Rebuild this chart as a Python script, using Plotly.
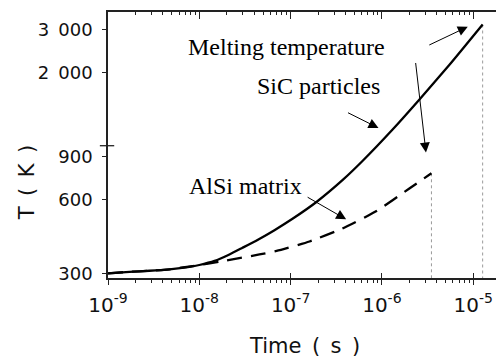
import plotly.graph_objects as go
import numpy as np

# ---- data ----
sic_time = [1.0e-9, 1.72e-9, 2.85e-9, 4.72e-9, 7.81e-9, 1.0e-8, 1.47e-8, 2.14e-8, 2.97e-8,
            4.34e-8, 6.66e-8, 1.05e-7, 1.92e-7, 3.70e-7, 6.13e-7, 1.31e-6, 2.58e-6, 5.50e-6, 1.27e-5]
sic_temp = [300, 304.2, 307.2, 311.6, 318.9, 324.4, 337.0, 358.3, 381.6,
            410.9, 450.6, 501.7, 587.9, 722.3, 865.6, 1165, 1547, 2146, 3139]

alsi_time = [1.0e-9, 1.72e-9, 2.85e-9, 4.72e-9, 8.42e-9, 1.99e-8, 4.56e-8, 7.02e-8,
             1.61e-7, 3.70e-7, 8.73e-7, 2.0e-6, 3.49e-6]
alsi_temp = [300, 304.2, 307.2, 311.6, 321, 338.5, 358.3, 370.3,
             405.0, 457.8, 540.0, 667.7, 770.7]

x_tick_exponents = [-9, -8, -7, -6, -5]
x_tick_vals = [10.0 ** e for e in x_tick_exponents]
x_tick_text = ["10<sup>-%d</sup>" % (-e) for e in x_tick_exponents]

y_tick_vals = [300, 600, 900, 2000, 3000]
y_tick_text = ["300", "600", "900", "2\u2002000", "3\u2002000"]
BREAK_T = 1000

X_RANGE = [-9, -4.750]
Y_RANGE = [2.4578, 3.548]
T_MIN = 10 ** Y_RANGE[0]

fig = go.Figure()

# dotted melting markers
fig.add_trace(go.Scatter(x=[sic_time[-1], sic_time[-1]], y=[sic_temp[-1], T_MIN],
                         mode="lines", line=dict(color="#9a9a9a", width=1, dash="dot"),
                         hoverinfo="skip", showlegend=False))
fig.add_trace(go.Scatter(x=[alsi_time[-1], alsi_time[-1]], y=[alsi_temp[-1], T_MIN],
                         mode="lines", line=dict(color="#9a9a9a", width=1, dash="dot"),
                         hoverinfo="skip", showlegend=False))

fig.add_trace(go.Scatter(x=alsi_time, y=alsi_temp, mode="lines", name="AlSi matrix",
                         line=dict(color="black", width=2.3, dash="15px,9px", shape="spline", smoothing=0.5),
                         showlegend=False))
fig.add_trace(go.Scatter(x=sic_time, y=sic_temp, mode="lines", name="SiC particles",
                         line=dict(color="black", width=2.3, shape="spline", smoothing=0.5),
                         showlegend=False))

# invisible helpers carrying the extra tick axes
fig.add_trace(go.Scatter(x=[sic_time[0]], y=[sic_temp[0]], xaxis="x2", mode="markers",
                         marker=dict(opacity=0), hoverinfo="skip", showlegend=False))
fig.add_trace(go.Scatter(x=[sic_time[0]], y=[sic_temp[0]], xaxis="x3", mode="markers",
                         marker=dict(opacity=0), hoverinfo="skip", showlegend=False))

axis_color = "#222222"
tick_font = dict(family="DejaVu Sans", size=20, color="#111111")

fig.update_layout(
    width=496, height=359,
    margin=dict(l=108, r=0, t=12, b=81, pad=0),
    paper_bgcolor="white", plot_bgcolor="white",
    xaxis=dict(type="log", range=X_RANGE, tickmode="array", tickvals=x_tick_vals,
               ticktext=x_tick_text, ticks="outside", ticklen=5, tickwidth=1.3,
               tickcolor=axis_color, showline=True, linecolor=axis_color, linewidth=1.5,
               showgrid=False, zeroline=False, tickfont=tick_font, ticklabelstandoff=3,
               minor=dict(dtick="D1", ticks="outside", ticklen=3, tickwidth=1.1,
                          tickcolor=axis_color, showgrid=False)),
    xaxis2=dict(type="log", range=X_RANGE, overlaying="x", side="top", anchor="y",
                tickmode="array", tickvals=x_tick_vals, showticklabels=False,
                ticks="inside", ticklen=7, tickwidth=1.3, tickcolor=axis_color,
                showline=True, linecolor=axis_color, linewidth=1.5, showgrid=False,
                zeroline=False,
                minor=dict(dtick="D1", ticks="inside", ticklen=3, tickwidth=1.1,
                           tickcolor=axis_color, showgrid=False)),
    xaxis3=dict(type="log", range=X_RANGE, overlaying="x", side="bottom", anchor="y",
                tickmode="array", tickvals=x_tick_vals, showticklabels=False,
                ticks="inside", ticklen=5, tickwidth=1.3, tickcolor=axis_color,
                showline=False, showgrid=False, zeroline=False),
    yaxis=dict(type="log", range=Y_RANGE, tickmode="array", tickvals=y_tick_vals,
               ticktext=y_tick_text, ticks="outside", ticklen=4, tickwidth=1.3,
               tickcolor=axis_color, showline=True, linecolor=axis_color, linewidth=1.5,
               showgrid=False, zeroline=False,
               tickfont=dict(family="DejaVu Sans", size=18, color="#111111"),
               ticklabelstandoff=6),
)

# axis break mark
fig.add_shape(type="line", xref="paper", yref="y", x0=-0.021, x1=0.016,
              y0=BREAK_T, y1=BREAK_T, line=dict(color=axis_color, width=1.3))

serif = dict(family="Liberation Serif, Times New Roman, serif", size=24, color="black")
ann = [
    dict(text="Melting temperature", x=0.4613, y=0.867),
    dict(text="SiC particles", x=0.5438, y=0.7229),
    dict(text="AlSi matrix", x=0.3552, y=0.347),
]
for a in ann:
    fig.add_annotation(xref="paper", yref="paper", x=a["x"], y=a["y"], text=a["text"],
                       showarrow=False, font=serif, xanchor="center", yanchor="middle")

# arrows (tip in data coords, tail offset in px)
arrows = [
    (8.73e-6, 3074, -40, 19),
    (3.04e-6, 938, -10.5, -91),
    (9.18e-7, 1182, -32, -16),
    (4.06e-7, 499, -40, -23),
]
for (tx, ty, ax, ay) in arrows:
    fig.add_annotation(x=np.log10(tx), y=np.log10(ty), xref="x", yref="y", ax=ax, ay=ay,
                       axref="pixel", ayref="pixel", text="", showarrow=True,
                       arrowhead=2, arrowsize=2, arrowwidth=1, arrowcolor="black", standoff=0)

title_font = dict(family="DejaVu Sans", size=21, color="#111111")
fig.add_annotation(xref="paper", yref="paper", x=0.5077, y=-0.2575,
                   text="Time\u2002(\u2002s\u2002)", showarrow=False, font=title_font,
                   xanchor="center", yanchor="middle")
fig.add_annotation(xref="paper", yref="paper", x=-0.2095, y=0.359,
                   text="T\u2002(\u2002K\u2002)", showarrow=False, font=title_font,
                   textangle=-90, xanchor="center", yanchor="middle")

fig.write_html("out.html")
